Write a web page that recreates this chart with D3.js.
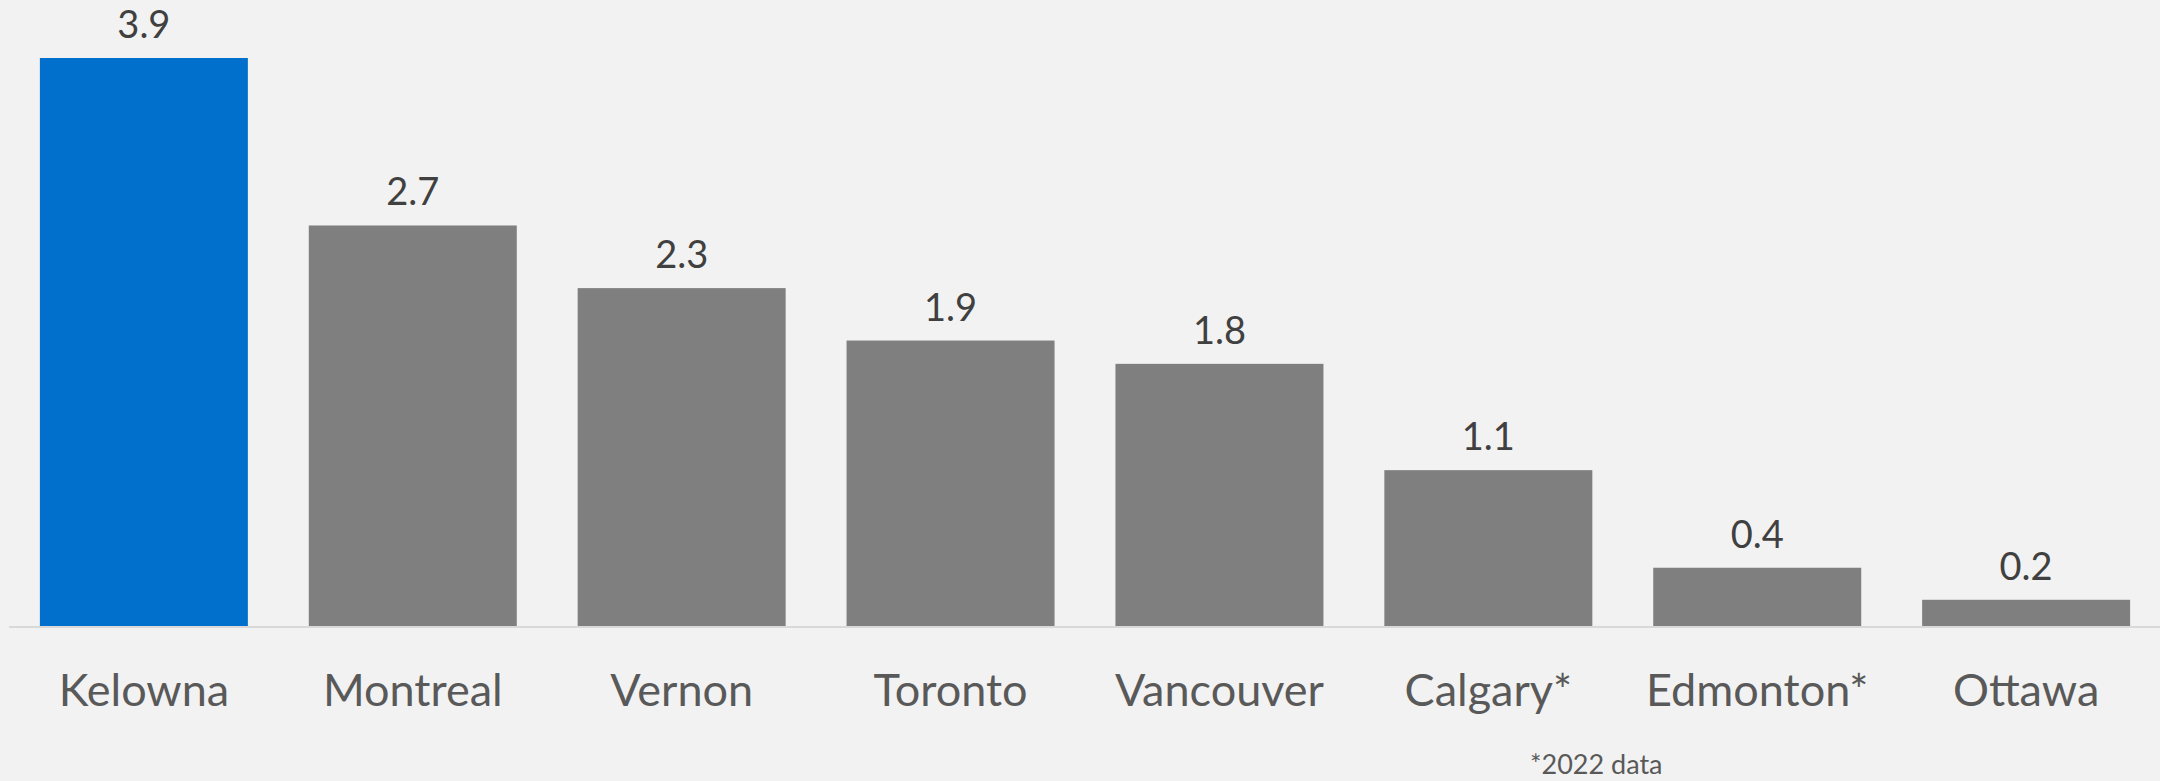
<!DOCTYPE html>
<html>
<head>
<meta charset="utf-8">
<script src="https://cdn.jsdelivr.net/npm/d3@7"></script>
<style>
  html, body { margin: 0; padding: 0; background: #f2f2f2; }
  svg { display: block; }
</style>
</head>
<body>
<svg id="chart" width="2160" height="781"></svg>
<script>
const categories = ["Kelowna", "Montreal", "Vernon", "Toronto", "Vancouver", "Calgary*", "Edmonton*", "Ottawa"];
const values = [3.9, 2.75, 2.32, 1.96, 1.80, 1.07, 0.40, 0.18];
const valueLabels = ["3.9", "2.7", "2.3", "1.9", "1.8", "1.1", "0.4", "0.2"];
const highlight = ["Kelowna"];
const footnote = "*2022 data";

const W = 2160, H = 781;
const baseY = 626;
const svg = d3.select("#chart");

svg.append("rect").attr("width", W).attr("height", H).attr("fill", "#f2f2f2");

const x = d3.scaleBand()
  .domain(categories)
  .range([9.5, 2160.5])
  .paddingInner(0.2265)
  .paddingOuter(0.113);

const y = d3.scaleLinear()
  .domain([0, 3.9])
  .range([baseY, 58]);

const data = categories.map((c, i) => ({ c, v: values[i], label: valueLabels[i] }));

svg.append("g").selectAll("rect")
  .data(data)
  .join("rect")
  .attr("x", d => x(d.c))
  .attr("y", d => y(d.v))
  .attr("width", x.bandwidth())
  .attr("height", d => y(0) - y(d.v))
  .attr("fill", d => highlight.includes(d.c) ? "#0070cc" : "#7f7f7f");

// axis baseline
const axis = d3.axisBottom(x).tickSize(0).tickPadding(0);
const gAxis = svg.append("g").attr("transform", `translate(0,${baseY + 1})`).call(axis);
gAxis.select(".domain").attr("stroke", "#d9d9d9").attr("stroke-width", 2).attr("d", "M9,0H2160");
gAxis.selectAll(".tick text")
  .attr("y", 79)
  .attr("dy", null)
  .attr("font-family", "Lato, 'Open Sans', sans-serif")
  .attr("font-size", 45)
  .attr("fill", "#595959");

// value labels
svg.append("g").selectAll("text")
  .data(data)
  .join("text")
  .attr("x", d => x(d.c) + x.bandwidth() / 2)
  .attr("y", d => y(d.v) - 20)
  .attr("text-anchor", "middle")
  .attr("font-family", "Lato, 'Open Sans', sans-serif")
  .attr("font-size", 38)
  .attr("fill", "#404040")
  .text(d => d.label);

// footnote
svg.append("text")
  .attr("x", 1530)
  .attr("y", 774)
  .attr("font-family", "Lato, 'Open Sans', sans-serif")
  .attr("font-size", 27)
  .attr("fill", "#595959")
  .text(footnote);
</script>
</body>
</html>
